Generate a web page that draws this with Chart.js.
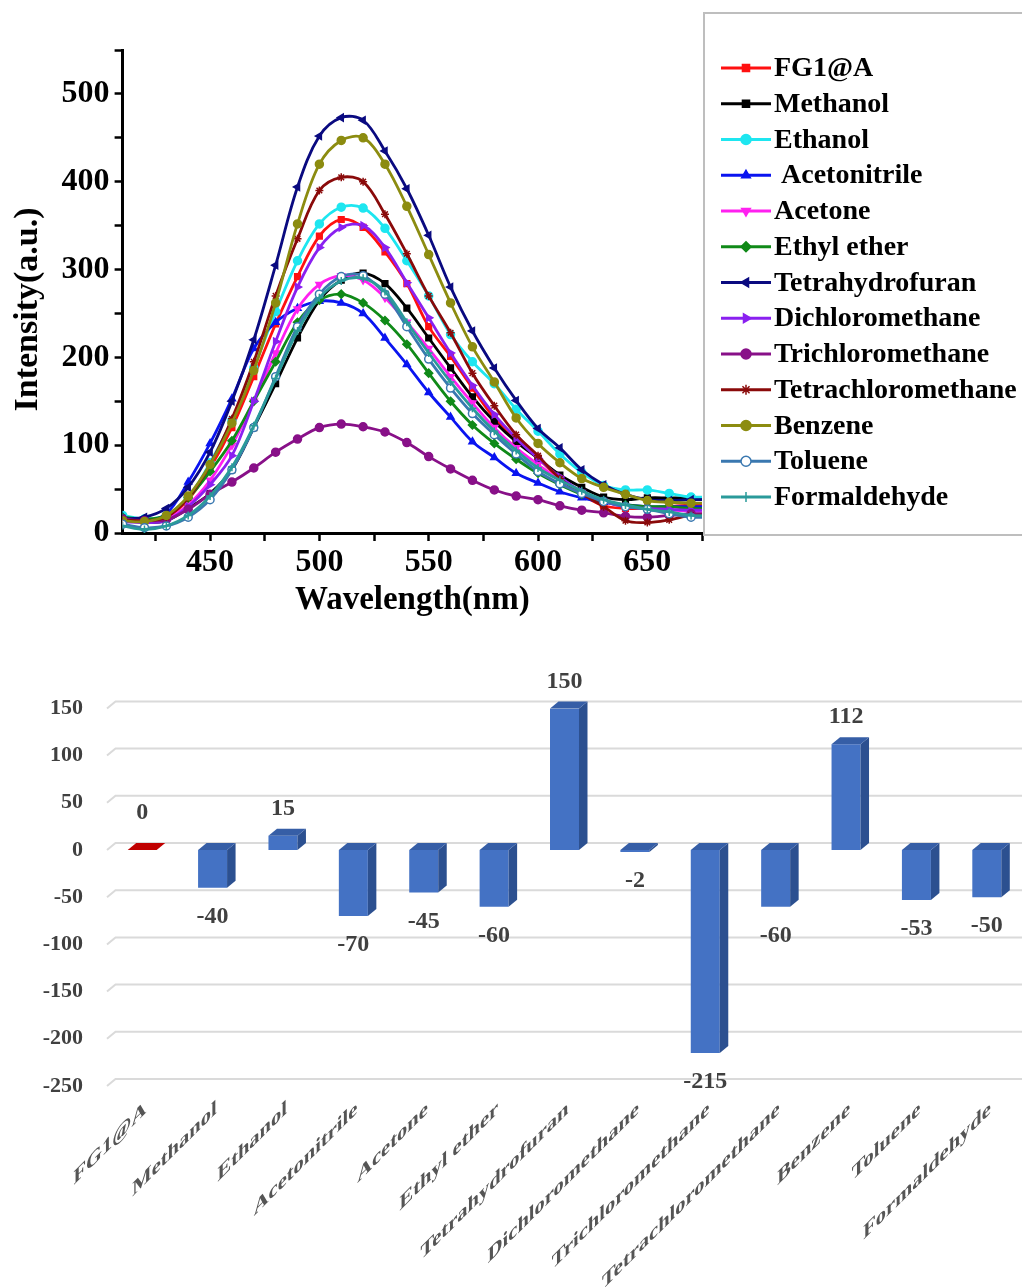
<!DOCTYPE html>
<html>
<head>
<meta charset="utf-8">
<title>Solvent response of FG1@A</title>
<script src="https://cdn.jsdelivr.net/npm/chart.js@4/dist/chart.umd.min.js"></script>
<style>
  html, body { margin: 0; padding: 0; background: #ffffff; }
  #wrap { position: relative; width: 1022px; height: 1287px; overflow: hidden; background: #ffffff; }
  #wrap canvas { position: absolute; left: 0; }
  #spectra { top: 0; }
  #changes { top: 630px; }
</style>
</head>
<body>
<div id="wrap">
  <canvas id="spectra" width="1022" height="630"></canvas>
  <canvas id="changes" width="1022" height="657"></canvas>
</div>
<script>
const SERIF = "'Liberation Serif', 'Times New Roman', serif";

// ---- Emission spectra (intensity, a.u.) ----
const wavelengths = [410, 420, 430, 440, 450, 460, 470, 480, 490, 500, 510, 520, 530, 540,
                     550, 560, 570, 580, 590, 600, 610, 620, 630, 640, 650, 660, 670, 680];

const fg1A         = [14, 13, 18, 38, 74, 120, 178, 238, 292, 338, 357, 348, 320, 284, 235, 201, 165, 131, 106, 85, 62, 44, 31, 28, 28, 30, 32, 32];
const methanol     = [16, 12, 14, 28, 45, 72, 120, 170, 222, 265, 288, 296, 284, 256, 222, 188, 155, 127, 104, 85, 66, 52, 41, 38, 40, 40, 40, 40];
const ethanol      = [20, 16, 20, 40, 80, 128, 188, 252, 310, 352, 371, 370, 347, 310, 270, 226, 195, 170, 141, 116, 90, 69, 54, 49, 49, 45, 41, 41];
const acetonitrile = [18, 14, 22, 58, 102, 153, 210, 240, 256, 264, 262, 250, 222, 192, 160, 132, 104, 86, 68, 57, 47, 40, 35, 32, 30, 30, 30, 30];
const acetone      = [15, 12, 16, 32, 60, 100, 150, 205, 255, 283, 293, 288, 268, 240, 210, 178, 148, 120, 97, 78, 60, 46, 36, 30, 28, 26, 25, 25];
const ethylEther   = [18, 16, 20, 40, 70, 105, 150, 195, 240, 265, 272, 262, 242, 215, 182, 150, 123, 102, 84, 68, 55, 44, 36, 32, 30, 30, 28, 28];
const thf          = [16, 18, 28, 52, 92, 150, 220, 305, 394, 452, 473, 470, 435, 392, 339, 280, 230, 188, 151, 119, 97, 72, 55, 44, 38, 37, 38, 38];
const dcm          = [13, 12, 14, 30, 55, 88, 150, 218, 280, 325, 348, 350, 325, 285, 245, 205, 168, 135, 108, 85, 64, 47, 36, 30, 28, 27, 26, 26];
const chloroform   = [16, 14, 15, 27, 44, 58, 74, 92, 107, 120, 124, 121, 115, 103, 87, 73, 60, 49, 42, 38, 31, 26, 23, 19, 18, 20, 22, 22];
const ccl4         = [15, 14, 18, 40, 78, 130, 195, 270, 335, 390, 405, 400, 363, 318, 270, 228, 182, 145, 112, 88, 62, 45, 30, 14, 12, 15, 20, 20];
const benzene      = [14, 13, 20, 42, 78, 125, 185, 262, 352, 420, 447, 450, 420, 372, 317, 262, 212, 172, 131, 102, 80, 62, 52, 44, 37, 35, 34, 34];
const toluene      = [10, 6, 8, 18, 38, 72, 120, 178, 235, 272, 292, 293, 272, 235, 198, 165, 136, 112, 90, 70, 56, 45, 36, 30, 27, 22, 18, 18];
const formaldehyde = [8, 4, 8, 20, 42, 75, 122, 176, 230, 268, 287, 290, 275, 240, 205, 172, 142, 116, 94, 74, 60, 48, 38, 32, 27, 24, 20, 20];

const seriesNames  = ['FG1@A', 'Methanol', 'Ethanol', ' Acetonitrile', 'Acetone', 'Ethyl ether',
                      'Tetrahydrofuran', 'Dichloromethane', 'Trichloromethane', 'Tetrachloromethane',
                      'Benzene', 'Toluene', 'Formaldehyde'];
const seriesValues = [fg1A, methanol, ethanol, acetonitrile, acetone, ethylEther, thf, dcm,
                      chloroform, ccl4, benzene, toluene, formaldehyde];
const seriesColors = ['#FF1010', '#000000', '#1EE6F0', '#0A14F0', '#FF20F0', '#108A18', '#0A0A80',
                      '#8A20F0', '#881088', '#8A0A0A', '#8C8C10', '#3A78B0', '#2A9A9A'];
const seriesMarkers = ['rect', 'rect', 'circle', 'triangle', 'triangle', 'rectRot', 'triangle',
                       'triangle', 'circle', 'star', 'circle', 'circle', 'cross'];
const seriesMarkerTurn = [0, 0, 0, 0, 180, 0, -90, 90, 0, 0, 0, 0, 0];
const hollowMarker = [false, false, false, false, false, false, false, false, false, false, false, true, false];

// ---- Intensity change per solvent ----
const solvents = ['FG1@A', 'Methanol', 'Ethanol', 'Acetonitrile', 'Acetone', 'Ethyl ether',
                  'Tetrahydrofuran', 'Dichloromethane', 'Trichloromethane', 'Tetrachloromethane',
                  'Benzene', 'Toluene', 'Formaldehyde'];
const changeValues = [0, -40, 15, -70, -45, -60, 150, -2, -215, -60, 112, -53, -50];
const changeTicks = [150, 100, 50, 0, -50, -100, -150, -200, -250];

// ================= Spectra chart =================
const spectraDatasets = seriesNames.map((name, i) => ({
  label: name,
  data: wavelengths.map((w, k) => ({ x: w, y: seriesValues[i][k] })),
  borderColor: seriesColors[i],
  backgroundColor: seriesColors[i],
  pointBackgroundColor: hollowMarker[i] ? '#ffffff' : seriesColors[i],
  pointBorderColor: seriesColors[i],
  pointStyle: seriesMarkers[i],
  pointRotation: seriesMarkerTurn[i],
  pointRadius: 4,
  pointBorderWidth: 1.5,
  borderWidth: 2.8,
  tension: 0.35,
  order: seriesNames.length - i
}));

// Framed legend: line sample with the series marker, then the name
const spectraLegend = {
  id: 'spectraLegend',
  afterDraw(chart) {
    const ctx = chart.ctx;
    const left = chart.chartArea.right + 2;
    ctx.save();
    ctx.strokeStyle = '#BEBEBE';
    ctx.lineWidth = 2;
    ctx.strokeRect(left, 13, 360, 522);
    chart.data.datasets.forEach((ds, i) => {
      const y = 68 + i * 35.75;
      ctx.strokeStyle = ds.borderColor;
      ctx.lineWidth = 3;
      ctx.beginPath();
      ctx.moveTo(left + 17, y);
      ctx.lineTo(left + 67, y);
      ctx.stroke();
      ctx.fillStyle = ds.pointBackgroundColor;
      ctx.strokeStyle = ds.pointBorderColor;
      ctx.lineWidth = 1.5;
      if (Chart.helpers && Chart.helpers.drawPoint) {
        Chart.helpers.drawPoint(ctx, { pointStyle: ds.pointStyle, rotation: ds.pointRotation, radius: 5, borderWidth: 1.5 }, left + 42, y);
      }
      ctx.fillStyle = '#000000';
      ctx.font = `bold 28px ${SERIF}`;
      ctx.textAlign = 'left';
      ctx.textBaseline = 'middle';
      ctx.fillText(ds.label, left + 70, y + 1);
    });
    ctx.restore();
  }
};

// Vertical axis title, set a little below the middle of the axis
const intensityTitle = {
  id: 'intensityTitle',
  afterDraw(chart) {
    const ctx = chart.ctx;
    const a = chart.chartArea;
    ctx.save();
    ctx.translate(28, (a.top + a.bottom) / 2 + 18);
    ctx.rotate(-Math.PI / 2);
    ctx.font = `bold 34px ${SERIF}`;
    ctx.fillStyle = '#000000';
    ctx.textAlign = 'center';
    ctx.textBaseline = 'middle';
    ctx.fillText('Intensity(a.u.)', 0, 0);
    ctx.restore();
  }
};

const tickFont = { family: SERIF, size: 32, weight: 'bold' };

new Chart(document.getElementById('spectra'), {
  type: 'line',
  data: { datasets: spectraDatasets },
  plugins: [spectraLegend, intensityTitle],
  options: {
    responsive: false,
    animation: false,
    events: [],
    layout: { padding: { top: 50, right: 320, left: 0, bottom: 0 } },
    plugins: { legend: { display: false }, tooltip: { enabled: false } },
    scales: {
      x: {
        type: 'linear', min: 410, max: 675,
        ticks: {
          stepSize: 25, includeBounds: false, autoSkip: false, maxRotation: 0, padding: 3,
          color: '#000000', font: tickFont,
          callback: v => (v % 50 === 0 ? String(v) : '')
        },
        grid: { display: true, drawOnChartArea: false, drawTicks: true, tickLength: 8, tickColor: '#000000', tickWidth: 2.5 },
        border: { display: true, color: '#000000', width: 3 },
        title: { display: true, text: 'Wavelength(nm)', color: '#000000',
                 font: { family: SERIF, size: 33, weight: 'bold' }, padding: { top: 0, bottom: 10 } },
        afterFit(scale) { scale.height = 97; }
      },
      y: {
        type: 'linear', min: 0, max: 550,
        ticks: {
          stepSize: 50, autoSkip: false, padding: 5, color: '#000000', font: tickFont,
          callback: v => (v % 100 === 0 ? String(v) : '')
        },
        grid: { display: true, drawOnChartArea: false, drawTicks: true, tickLength: 8, tickColor: '#000000', tickWidth: 2.5 },
        border: { display: true, color: '#000000', width: 3 },
        title: { display: false },
        afterFit(scale) { scale.width = 122.6; }
      }
    }
  }
});

// ================= 3-D column chart =================
const DEPTH_X = 8.5;
const DEPTH_Y = 7;
const FRONT_BLUE = '#4472C4';
const SIDE_BLUE = '#2C5090';
const TOP_BLUE = '#365EA6';
const ZERO_RED = '#C00000';

// Back-wall gridlines with the short slanted floor edge on the left
const backWall = {
  id: 'backWall',
  beforeDatasetsDraw(chart) {
    const { ctx, chartArea: a, scales: { y } } = chart;
    ctx.save();
    ctx.strokeStyle = '#DADADA';
    ctx.lineWidth = 2;
    changeTicks.forEach(v => {
      const py = y.getPixelForValue(v);
      ctx.beginPath();
      ctx.moveTo(a.left, py);
      ctx.lineTo(a.left + DEPTH_X, py - DEPTH_Y);
      ctx.lineTo(a.right + 2, py - DEPTH_Y);
      ctx.stroke();
    });
    ctx.restore();
  }
};

// Side and top faces of each column, then the value labels
const columnDepth = {
  id: 'columnDepth',
  afterDatasetsDraw(chart) {
    const ctx = chart.ctx;
    const meta = chart.getDatasetMeta(0);
    const values = chart.data.datasets[0].data;
    ctx.save();
    meta.data.forEach((bar, i) => {
      const p = bar.getProps(['x', 'y', 'base', 'width'], true);
      const l = p.x - p.width / 2, r = p.x + p.width / 2;
      const top = Math.min(p.y, p.base), bottom = Math.max(p.y, p.base);
      const isZero = values[i] === 0;
      if (!isZero) {
        ctx.fillStyle = SIDE_BLUE;
        ctx.beginPath();
        ctx.moveTo(r, top);
        ctx.lineTo(r + DEPTH_X, top - DEPTH_Y);
        ctx.lineTo(r + DEPTH_X, bottom - DEPTH_Y);
        ctx.lineTo(r, bottom);
        ctx.closePath();
        ctx.fill();
      }
      ctx.fillStyle = isZero ? ZERO_RED : TOP_BLUE;
      ctx.beginPath();
      ctx.moveTo(l, top);
      ctx.lineTo(l + DEPTH_X, top - DEPTH_Y);
      ctx.lineTo(r + DEPTH_X, top - DEPTH_Y);
      ctx.lineTo(r, top);
      ctx.closePath();
      ctx.fill();
    });

    ctx.font = `bold 24px ${SERIF}`;
    ctx.fillStyle = '#404040';
    ctx.textAlign = 'center';
    ctx.textBaseline = 'middle';
    meta.data.forEach((bar, i) => {
      const v = values[i];
      const p = bar.getProps(['x', 'y', 'base'], true);
      const top = Math.min(p.y, p.base), bottom = Math.max(p.y, p.base);
      let ly;
      if (v > 0) ly = top - 27;
      else if (v < 0) ly = bottom + 29;
      else ly = top - 37;
      ctx.fillText(String(v), p.x, ly);
    });
    ctx.restore();
  }
};

// Category names set on a 45-degree sheared baseline
const slantedLabels = {
  id: 'slantedLabels',
  afterDraw(chart) {
    const ctx = chart.ctx;
    const xs = chart.scales.x;
    ctx.save();
    ctx.font = `bold 20.5px ${SERIF}`;
    ctx.fillStyle = '#555555';
    ctx.textAlign = 'right';
    ctx.textBaseline = 'top';
    chart.data.labels.forEach((lab, i) => {
      const x = xs.getPixelForTick(i) + 4;
      ctx.save();
      ctx.translate(x, xs.top + 11);
      ctx.transform(1, -1, 0, 1, 0, 0);
      ctx.fillText(lab, 0, 0);
      ctx.restore();
    });
    ctx.restore();
  }
};

new Chart(document.getElementById('changes'), {
  type: 'bar',
  data: {
    labels: solvents,
    datasets: [{
      data: changeValues,
      backgroundColor: changeValues.map(v => (v === 0 ? ZERO_RED : FRONT_BLUE)),
      borderWidth: 0,
      barPercentage: 0.412,
      categoryPercentage: 1
    }]
  },
  plugins: [backWall, columnDepth, slantedLabels],
  options: {
    responsive: false,
    animation: false,
    events: [],
    layout: { padding: { top: 78.4, right: 0, left: 0, bottom: 0 } },
    plugins: { legend: { display: false }, tooltip: { enabled: false } },
    scales: {
      x: {
        type: 'category',
        ticks: { display: false },
        grid: { display: false, drawTicks: false },
        border: { display: false },
        afterFit(scale) { scale.height = 201; }
      },
      y: {
        min: -250, max: 150,
        ticks: { stepSize: 50, padding: 24, color: '#404040', font: { family: SERIF, size: 22, weight: 'bold' } },
        grid: { display: false, drawTicks: false },
        border: { display: false },
        afterFit(scale) { scale.width = 107; }
      }
    }
  }
});
</script>
</body>
</html>
